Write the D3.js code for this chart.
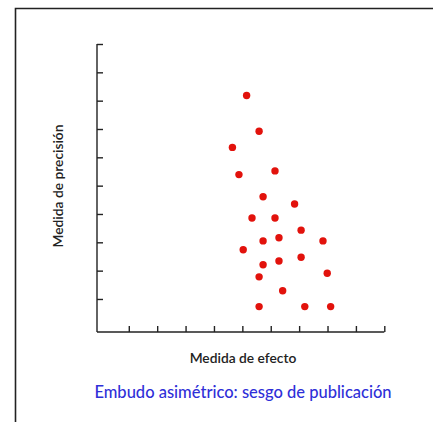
<!DOCTYPE html>
<html>
<head>
<meta charset="utf-8">
<script src="https://cdn.jsdelivr.net/npm/d3@7"></script>
<style>
  html, body { margin: 0; padding: 0; background: #fff; }
  svg { display: block; }
</style>
</head>
<body>
<div id="chart"></div>
<script>
// effect size (x) and precision (y) of each study
const effectVals = [5.15, 5.59, 4.65, 4.88, 6.15, 5.73, 6.84, 5.34, 6.15, 7.07, 5.73, 6.29,
  7.84, 5.03, 5.73, 6.29, 7.07, 7.99, 5.59, 6.42, 5.59, 7.2, 8.11];
const precisionVals = [8.18, 6.92, 6.35, 5.39, 5.52, 4.61, 4.35, 3.86, 3.86, 3.43, 3.05, 3.16,
  3.05, 2.74, 2.21, 2.34, 2.47, 1.91, 1.78, 1.29, 0.73, 0.73, 0.73];
const tickVals = [1, 2, 3, 4, 5, 6, 7, 8, 9, 10];

const width = 433;
const height = 422;
const font = "Lato, 'Open Sans', sans-serif";

const svg = d3.select("#chart")
  .append("svg")
  .attr("width", width)
  .attr("height", height);

// frame (only top and left edges show)
svg.append("path")
  .attr("d", `M15.5,${height}V8.5H${width}`)
  .attr("fill", "none")
  .attr("stroke", "#222")
  .attr("stroke-width", 1.6);

// scales
const x = d3.scaleLinear().domain([0, 10]).range([100.4, 384.3]);
const y = d3.scaleLinear().domain([0, 10]).range([327.3, 44]);

const axisX0 = 97;
const axisY0 = 332;

// x axis, ticks pointing up
const gx = svg.append("g")
  .attr("transform", `translate(0,${axisY0})`)
  .call(d3.axisTop(x).tickValues(tickVals).tickSize(6).tickSizeOuter(0).tickFormat(""));
gx.select(".domain").attr("d", `M${axisX0},0H${x(10)}`);

// y axis, ticks pointing right
const gy = svg.append("g")
  .attr("transform", `translate(${axisX0},0)`)
  .call(d3.axisRight(y).tickValues(tickVals).tickSize(6).tickSizeOuter(0).tickFormat(""));
gy.select(".domain").attr("d", `M0,${axisY0}V${y(10)}`);

svg.selectAll(".domain, .tick line")
  .attr("stroke", "#222")
  .attr("stroke-width", 1.4);

// points
const points = effectVals.map((v, i) => ({ x: v, y: precisionVals[i] }));
svg.append("g")
  .selectAll("circle")
  .data(points)
  .enter()
  .append("circle")
  .attr("cx", d => x(d.x))
  .attr("cy", d => y(d.y))
  .attr("r", 3.7)
  .attr("fill", "#e2120c");

// axis labels
svg.append("text")
  .attr("x", 243)
  .attr("y", 363)
  .attr("text-anchor", "middle")
  .attr("font-family", font)
  .attr("font-size", "13.8px")
  .attr("font-weight", "600")
  .attr("fill", "#222")
  .text("Medida de efecto");

svg.append("text")
  .attr("transform", "translate(63,186) rotate(-90)")
  .attr("text-anchor", "middle")
  .attr("font-family", font)
  .attr("font-size", "13.8px")
  .attr("font-weight", "600")
  .attr("fill", "#222")
  .text("Medida de precisión");

// caption
svg.append("text")
  .attr("x", 243)
  .attr("y", 398)
  .attr("text-anchor", "middle")
  .attr("font-family", font)
  .attr("font-size", "16.5px")
  .attr("font-weight", "500")
  .attr("fill", "#2f2fd8")
  .text("Embudo asimétrico: sesgo de publicación");
</script>
</body>
</html>
